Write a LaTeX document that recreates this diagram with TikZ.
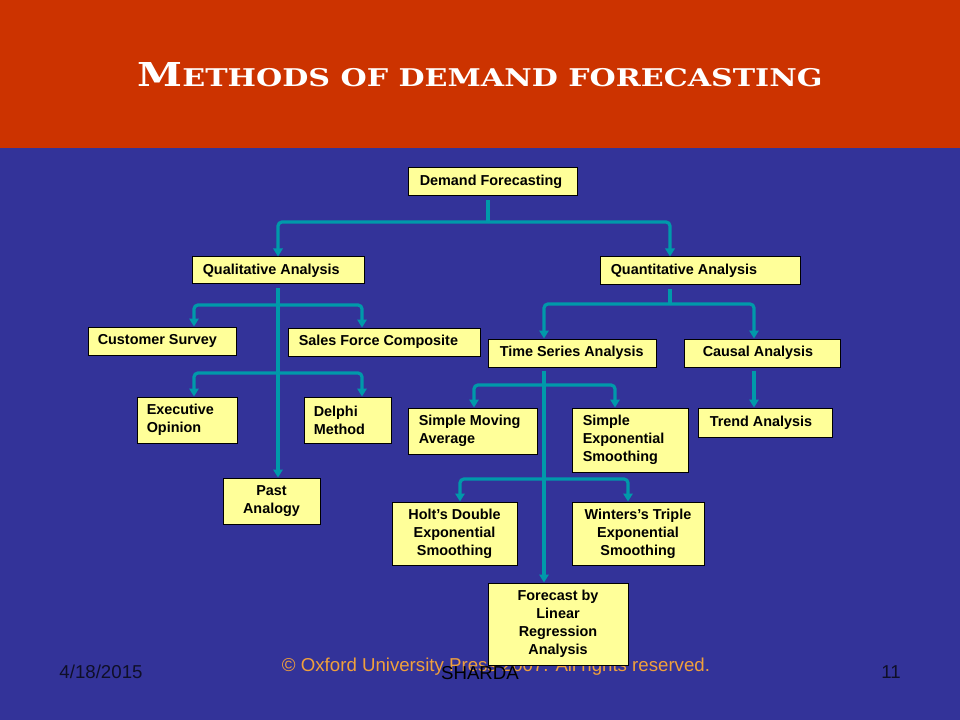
\documentclass[tikz,border=0pt]{standalone}
\usepackage{fontspec}
\setmainfont{Liberation Sans}
\newfontfamily\titlefont{DejaVu Serif}
\usetikzlibrary{arrows.meta,calc}
\definecolor{bgblue}{RGB}{51,51,153}
\definecolor{hdred}{RGB}{204,51,0}
\definecolor{boxyel}{RGB}{255,255,153}
\definecolor{tealc}{RGB}{0,153,170}
\definecolor{orng}{RGB}{240,160,60}
\definecolor{footdark}{RGB}{15,15,40}
\newcommand\bxl[7]{% name x1 y1 x2 y2 pad text (left aligned)
  \pgfmathsetmacro\bxw{(#4-#2)*0.75}\pgfmathsetmacro\bxh{(#5-#3)*0.75}
  \node[box,minimum width=\bxw pt,minimum height=\bxh pt] (#1) at ({(#2+#4)/2},{(#3+#5)/2}) {};
  \node[boxtxt,anchor=west,align=left,xshift=#6*0.75pt] (#1-t) at (#1.west) {#7};}
\newcommand\bxc[6]{% name x1 y1 x2 y2 text (centred)
  \pgfmathsetmacro\bxw{(#4-#2)*0.75}\pgfmathsetmacro\bxh{(#5-#3)*0.75}
  \node[box,minimum width=\bxw pt,minimum height=\bxh pt] (#1) at ({(#2+#4)/2},{(#3+#5)/2}) {};
  \node[boxtxt,align=center] (#1-t) at (#1.center) {#6};}
\begin{document}
\begin{tikzpicture}[x=0.75pt,y=-0.75pt,
  box/.style={draw=black,line width=0.75pt,fill=boxyel,inner sep=0pt},
  boxtxt/.style={inner sep=0pt,text=black,font=\bfseries\fontsize{10.8}{13.4}\selectfont},
  conn/.style={draw=tealc,line width=2.4pt,rounded corners=3pt},
  arr/.style={conn,-{Triangle[width=7pt,length=6pt]}},
  foot/.style={inner sep=0pt,font=\fontsize{14}{16}\selectfont}]
\useasboundingbox (0,0) rectangle (960,720);
\fill[bgblue] (0,0) rectangle (960,720);
\fill[hdred] (0,0) rectangle (960,148);
\node[inner sep=0pt,text=white] (title) at (480,75)
  {\resizebox{513.75pt}{18pt}{\titlefont\bfseries\fontsize{27}{30}\selectfont M\fontsize{20}{22}\selectfont ETHODS OF DEMAND FORECASTING}};
% footer (behind boxes)
\node[foot,text=orng] (copy) at (496,667) {\resizebox{321pt}{!}{\fontsize{12}{14}\selectfont \textcopyright{} Oxford University Press 2007. All rights reserved.}};
% boxes
\bxl{dem}{408}{168}{577}{196}{12}{Demand Forecasting}
\bxl{qual}{192}{257}{364}{284}{11}{Qualitative Analysis}
\bxl{quant}{600}{257}{800}{285}{11}{Quantitative Analysis}
\bxl{cs}{88}{327}{236}{355}{10}{Customer Survey}
\bxl{sf}{288}{328}{480}{356}{11}{Sales Force Composite}
\bxl{ts}{488}{339}{656}{367}{12}{Time Series Analysis}
\bxl{ca}{684}{339}{840}{367}{19}{Causal Analysis}
\bxl{ex}{137}{397}{237}{443}{10}{Executive\\Opinion}
\bxl{de}{304}{397}{391}{443}{10}{Delphi\\Method}
\bxc{pa}{223}{478}{320}{524}{Past\\Analogy}
\bxl{sma}{408}{408}{537}{454}{11}{Simple Moving\\Average}
\bxl{ses}{572}{408}{688}{472}{11}{Simple\\Exponential\\Smoothing}
\bxl{tr}{698}{408}{832}{437}{12}{Trend Analysis}
\bxc{holt}{392}{502}{517}{565}{Holt’s Double\\Exponential\\Smoothing}
\bxc{win}{572}{502}{704}{565}{Winters’s Triple\\Exponential\\Smoothing}
\bxc{fc}{488}{583}{628}{665}{Forecast by\\Linear\\Regression\\Analysis}
% connectors
\coordinate (j0) at (488,222);
\draw[conn] ($(dem.south -| 488,0)+(0,4)$) -- (j0);
\draw[arr] (j0) -| (qual.north -| 278,0);
\draw[arr] (j0) -| (quant.north -| 670,0);
% qualitative
\coordinate (q1) at (278,305);
\coordinate (q2) at (278,373);
\draw[arr] ($(qual.south -| 278,0)+(0,4)$) -- (pa.north -| 278,0);
\draw[arr] (q1) -| (cs.north -| 194,0);
\draw[arr] (q1) -| (sf.north -| 362,0);
\draw[arr] (q2) -| (ex.north -| 194,0);
\draw[arr] (q2) -| (de.north -| 362,0);
% quantitative
\coordinate (n0) at (670,304);
\draw[conn] ($(quant.south -| 670,0)+(0,4)$) -- (n0);
\draw[arr] (n0) -| (ts.north -| 544,0);
\draw[arr] (n0) -| (ca.north -| 754,0);
\draw[arr] ($(ca.south -| 754,0)+(0,3)$) -- (tr.north -| 754,0);
% time series
\coordinate (t1) at (544,385);
\coordinate (t2) at (544,479);
\draw[arr] ($(ts.south -| 544,0)+(0,3)$) -- (fc.north -| 544,0);
\draw[arr] (t1) -| (sma.north -| 474,0);
\draw[arr] (t1) -| (ses.north -| 615,0);
\draw[arr] (t2) -| (holt.north -| 460,0);
\draw[arr] (t2) -| (win.north -| 628,0);
% footer
\node[foot,text=footdark] (date) at (101,672) {4/18/2015};
\node[foot,text=black] (sharda) at (480,673) {SHARDA};
\node[foot,text=footdark] (pg) at (891,672) {11};
\end{tikzpicture}
\end{document}
